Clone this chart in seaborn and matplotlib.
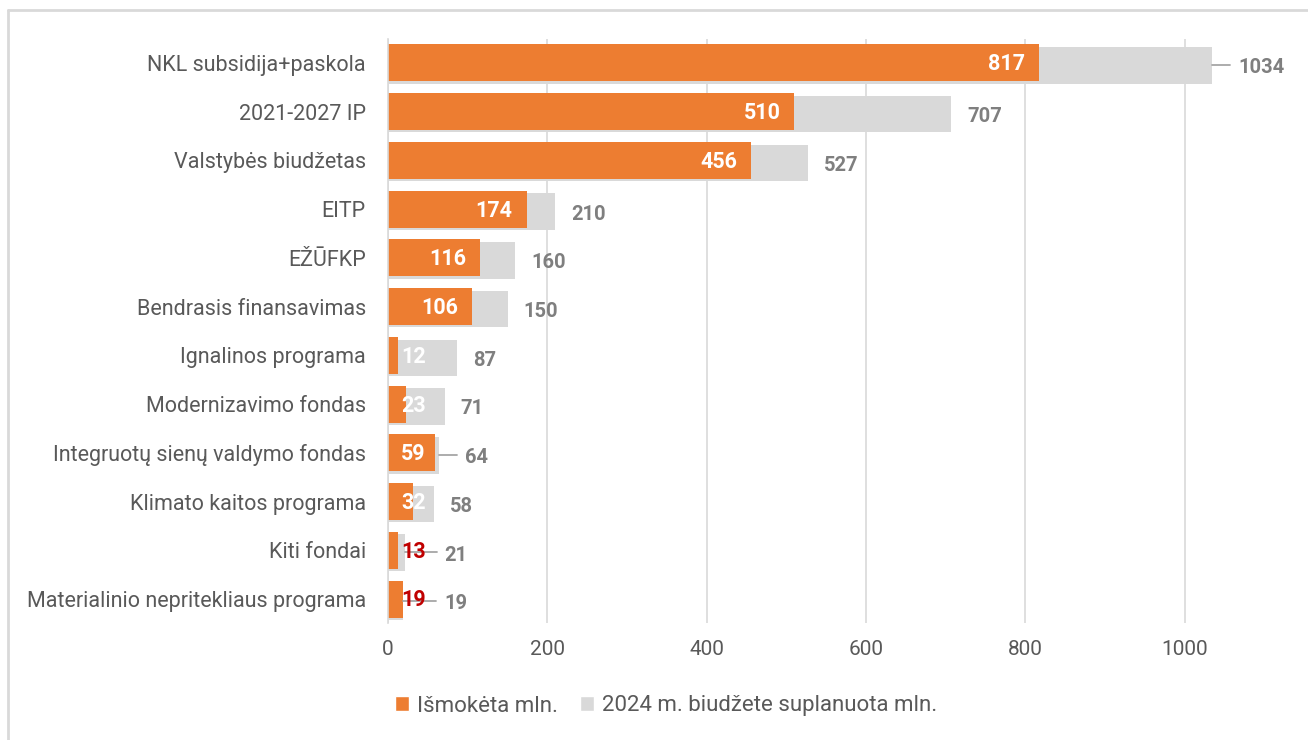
import matplotlib
matplotlib.use("Agg")
import matplotlib.pyplot as plt
from matplotlib.lines import Line2D
from matplotlib.patches import Patch
import matplotlib.transforms as mtransforms
import pandas as pd
import seaborn as sns

# data
categories = ['NKL subsidija+paskola', '2021-2027 IP', 'Valstybės biudžetas', 'EITP', 'EŽŪFKP',
              'Bendrasis finansavimas', 'Ignalinos programa', 'Modernizavimo fondas',
              'Integruotų sienų valdymo fondas', 'Klimato kaitos programa', 'Kiti fondai',
              'Materialinio nepritekliaus programa']
paid = [817, 510, 456, 174, 116, 106, 12, 23, 59, 32, 13, 19]
planned = [1034, 707, 527, 210, 160, 150, 87, 71, 64, 58, 21, 19]
paid_name = 'Išmokėta mln.'
planned_name = '2024 m. biudžete suplanuota mln.'

df = pd.DataFrame({'cat': categories, 'paid': paid, 'planned': planned})

ORANGE = '#ED7D31'
GREY = '#D9D9D9'
TXT = '#595959'
LBL = '#7F7F7F'

sns.set_style('white')
plt.rcParams['font.family'] = ['Roboto', 'DejaVu Sans']

fig = plt.figure(figsize=(13.08, 7.4), dpi=100)
W, H = 1308, 740
ax = fig.add_axes([388 / W, 1 - 623.4 / H, (1290 - 388) / W, (623.4 - 38.6) / H])

# grey planned bars (slightly lower), then orange paid bars on top
sns.barplot(data=df, y='cat', x='planned', color=GREY, width=0.75, orient='h',
            order=categories, ax=ax, saturation=1, zorder=2, linewidth=0)
for p in ax.patches:
    p.set_y(p.get_y() + 0.05)
sns.barplot(data=df, y='cat', x='paid', color=ORANGE, width=0.76, orient='h',
            order=categories, ax=ax, saturation=1, zorder=3, linewidth=0)

ax.set_xlim(0, 1132)
ax.set_ylim(len(categories) - 0.5, -0.5)
ax.set_xticks([0, 200, 400, 600, 800, 1000])
ax.grid(axis='x', color=GREY, linewidth=1.2, zorder=0)
ax.set_axisbelow(True)
for s in ['top', 'right', 'bottom']:
    ax.spines[s].set_visible(False)
ax.spines['left'].set_color(GREY)
ax.spines['left'].set_linewidth(1.2)
ax.spines['left'].set_zorder(5)
ax.set_xlabel('')
ax.set_ylabel('')
ax.tick_params(axis='x', length=0, labelsize=15, colors=TXT, pad=12)
ax.tick_params(axis='y', length=0, labelsize=15.5, colors=TXT, pad=16)

# labels on paid bars
for i, v in enumerate(paid):
    tr = mtransforms.offset_copy(ax.transData, fig=fig, x=-14, y=0, units='dots')
    col = '#C00000' if planned[i] < 30 else 'white'
    ax.text(max(v, 65), i + 0.03, str(v), transform=tr, ha='right', va='center',
            fontsize=15.5, fontweight='bold', color=col, zorder=6)

# labels beyond planned bars, some with leader lines
gap = [26, 16, 16, 16, 16, 16, 16, 16, 26, 16, 40, 41]
for i, v in enumerate(planned):
    g = gap[i]
    tr = mtransforms.offset_copy(ax.transData, fig=fig, x=g, y=0, units='dots')
    ax.text(v, i + 0.1, str(v), transform=tr, ha='left', va='center',
            fontsize=14.5, fontweight='bold', color=LBL, zorder=6)
    if g > 16:
        x_end_px = ax.transData.transform((v, 0))[0] + g - 8
        x_end = ax.transData.inverted().transform((x_end_px, 0))[0]
        ax.plot([v, x_end], [i + 0.04, i + 0.04], color='#A6A6A6', lw=1.3, zorder=5)

# legend
handles = [Patch(facecolor=ORANGE, label=paid_name), Patch(facecolor=GREY, label=planned_name)]
fig.legend(handles=handles, loc='center', bbox_to_anchor=(666 / W, 1 - 706 / H), ncol=2,
           frameon=False, fontsize=16, labelcolor=TXT, handlelength=0.65, handleheight=0.65,
           handletextpad=0.35, columnspacing=1.0)

# outer border (left and top only visible)
fig.add_artist(Line2D([8 / W, 8 / W], [0, 1 - 10 / H], transform=fig.transFigure, color=GREY, lw=2))
fig.add_artist(Line2D([8 / W, 1], [1 - 10 / H, 1 - 10 / H], transform=fig.transFigure, color=GREY, lw=2))

fig.savefig('out.png', dpi=100)
